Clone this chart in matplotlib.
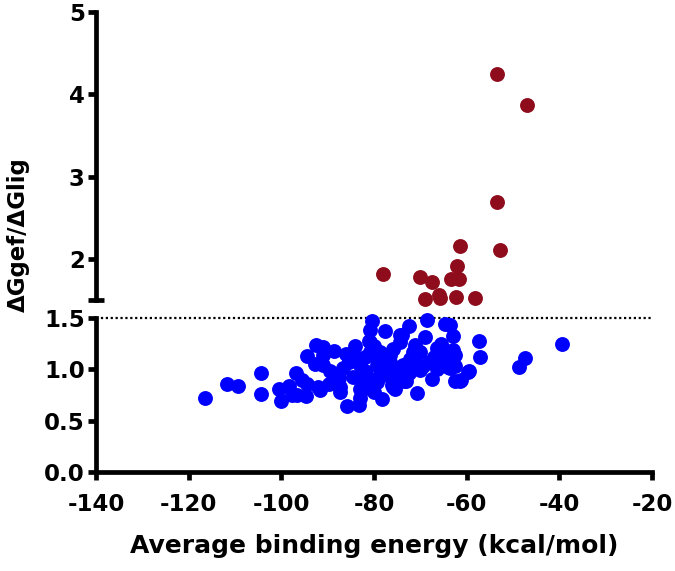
"""
Scatter: dG ratio vs average binding energy, broken y axis (Prism style)
"""

import matplotlib.pyplot as plt

plt.rcParams["font.family"] = ["DejaVu Sans"]
plt.rcParams["font.weight"] = "bold"

# points above the 1.5 cut-off (red)
red_x = [-53.4, -46.9, -53.5, -52.9, -61.5, -62.0, -78.1, -70.1, -67.4, -63.3,
         -61.6, -69.0, -66.0, -65.7, -62.2, -58.1]
red_y = [4.25, 3.87, 2.69, 2.11, 2.16, 1.91, 1.82, 1.78, 1.72, 1.75,
         1.76, 1.51, 1.56, 1.52, 1.54, 1.52]

# points below the cut-off (blue)
blue_x = [-116.5, -111.8, -109.3, -104.3, -104.3, -100.4, -98.4, -100.0, -97.8, -96.8,
          -94.6, -94.5, -92.5, -92.0, -90.9, -96.6, -94.5, -91.6, -89.8, -90.9,
          -88.7, -90.9, -89.5, -87.3, -86.6, -85.3, -84.1, -85.9, -83.2, -84.5,
          -83.0, -82.3, -83.0, -81.9, -81.0, -80.9, -80.5, -80.9, -80.1, -80.1,
          -79.4, -79.4, -78.7, -78.7, -78.3, -78.0, -77.6, -76.6, -76.6, -76.2,
          -75.8, -75.8, -75.5, -74.4, -74.4, -74.4, -73.7, -73.7, -73.0, -72.4,
          -71.9, -71.6, -71.2, -70.8, -70.1, -69.4, -69.0, -68.5, -68.0, -67.4,
          -66.4, -65.5, -64.7, -63.7, -63.3, -63.7, -63.0, -63.0, -63.7, -62.6,
          -62.6, -61.3, -59.5, -57.4, -57.1, -48.6, -47.4, -39.4, -86.0, -82.0,
          -77.0, -72.5, -70.5, -66.5, -65.0, -87.5, -92.8, -95.5,
          -74.0, -80.9, -65.1, -62.6, -70.1, -85.5, -72.3, -68.0, -64.0, -59.7,
          -61.5, -73.5, -75.8, -88.1, -87.3, -82.3, -78.7, -80.9, -75.8, -83.0,
          -77.0, -79.5, -71.0, -67.0, -84.0, -82.0]
blue_y = [0.72, 0.86, 0.84, 0.96, 0.76, 0.81, 0.84, 0.69, 0.75, 0.96,
          0.74, 1.13, 1.24, 0.83, 1.14, 0.75, 0.86, 0.80, 0.86, 1.04,
          1.18, 1.22, 0.98, 0.83, 1.01, 1.09, 1.23, 0.64, 0.65, 0.93,
          1.04, 0.88, 0.81, 0.98, 1.28, 1.17, 1.47, 1.38, 0.78, 1.23,
          1.04, 0.88, 1.01, 1.17, 0.71, 0.94, 1.37, 1.07, 1.14, 0.85,
          0.91, 1.20, 0.81, 1.33, 1.27, 1.01, 0.90, 1.04, 0.89, 1.42,
          1.11, 1.17, 1.24, 0.77, 0.99, 1.03, 1.31, 1.48, 1.07, 0.91,
          1.21, 1.25, 1.44, 1.43, 1.03, 1.14, 1.19, 1.32, 1.01, 1.03,
          0.89, 0.90, 0.98, 1.28, 1.12, 1.02, 1.11, 1.25, 1.15, 1.12,
          0.97, 0.96, 1.18, 1.00, 1.10, 0.92, 1.05, 0.90,
          1.33, 1.27, 1.20, 1.14, 1.17, 1.07, 1.10, 1.07, 1.02, 0.97,
          0.89, 0.89, 0.83, 0.88, 0.78, 0.81, 0.99, 0.91, 1.02, 0.72,
          1.10, 1.12, 1.05, 1.12, 1.12, 0.96]

CUTOFF = 1.5
x_ticks = [-140, -120, -100, -80, -60, -40, -20]
low_ticks = [0.0, 0.5, 1.0, 1.5]
up_ticks = [2, 3, 4, 5]

BLUE = "#0000FF"
RED = "#8E0C1C"
SPINE_W = 3.4
TICK_FS = 16.5

fig = plt.figure(figsize=(6.75, 5.71), dpi=100)
ax_lo = fig.add_axes([0.1422, 0.1734, 0.8237, 0.2697])
ax_hi = fig.add_axes([0.1422, 0.4746, 0.8237, 0.5044], sharex=ax_lo)

for ax in (ax_lo, ax_hi):
    for s in ("top", "right"):
        ax.spines[s].set_visible(False)
    ax.spines["left"].set_linewidth(SPINE_W)
    ax.spines["bottom"].set_linewidth(SPINE_W)
    ax.tick_params(width=SPINE_W, length=6, labelsize=TICK_FS, pad=2)
    ax.patch.set_alpha(0)

ax_hi.spines["bottom"].set_visible(False)
ax_hi.tick_params(axis="x", which="both", bottom=False, labelbottom=False)

ax_lo.scatter(blue_x, blue_y, s=115, color=BLUE, linewidths=0, zorder=3, clip_on=False)
ax_hi.scatter(red_x, red_y, s=115, color=RED, linewidths=0, zorder=3, clip_on=False)

ax_lo.axhline(CUTOFF, color="black", linestyle=(0, (1, 1.2)), linewidth=1.6,
              clip_on=False, zorder=2)

ax_lo.set_xlim(-140, -20)
ax_lo.set_xticks(x_ticks)
ax_lo.set_xticklabels([str(v) for v in x_ticks])
ax_lo.tick_params(axis="x", pad=9)
ax_lo.set_ylim(0, CUTOFF)
ax_lo.set_yticks(low_ticks)
ax_lo.set_yticklabels([f"{v:.1f}" for v in low_ticks])

ax_hi.set_ylim(CUTOFF, 5)
ax_hi.set_yticks(up_ticks)
ax_hi.set_yticklabels([str(v) for v in up_ticks])

# break caps at the ends of both segments
for ax in (ax_lo, ax_hi):
    ax.set_yticks([CUTOFF], minor=True)
    ax.tick_params(axis="y", which="minor", direction="inout", length=12,
                   width=SPINE_W, labelleft=False)

ax_lo.set_xlabel("Average binding energy (kcal/mol)", fontsize=18,
                 fontweight="bold", labelpad=13)
fig.text(0.027, 1 - 235 / 571, "\u0394Ggef/\u0394Glig", rotation=90,
         fontsize=16.5, fontweight="bold", ha="center", va="center")

plt.savefig("out.png", dpi=100)
plt.close()
